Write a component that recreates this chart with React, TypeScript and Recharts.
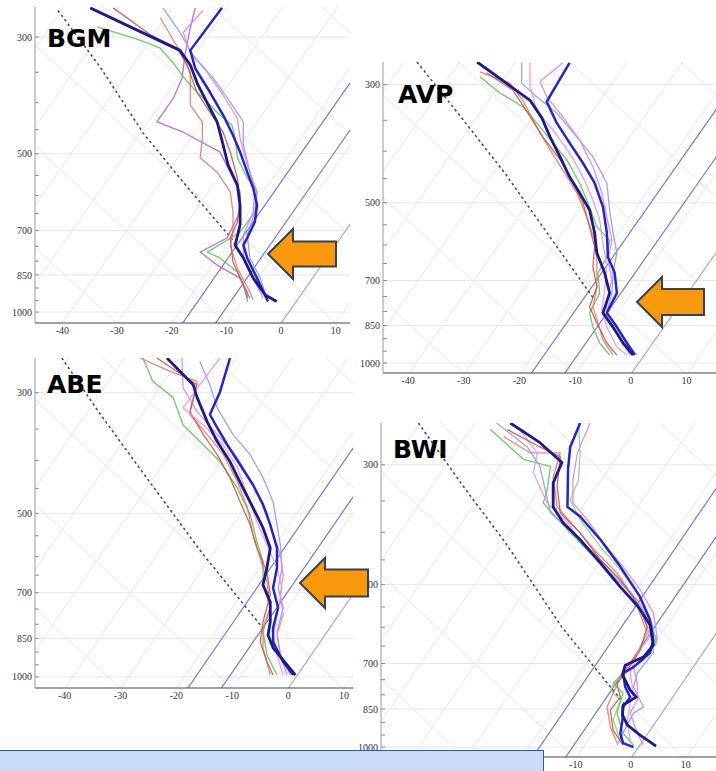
import React from "react";
import { LineChart, Line, XAxis, YAxis, ReferenceLine } from "recharts";

type Pt = [number, number]; // [skewed temperature read on the x axis (°C), pressure (hPa)]

// ---------- axes ----------
const X_TICKS = [-40, -30, -20, -10, 0, 10];
const P_LABELS = [300, 500, 700, 850, 1000];
const P_MINOR = [300, 350, 400, 450, 500, 550, 600, 650, 700, 750, 800, 850, 900, 950, 1000];

// ---------- skew-T background ----------
const SKEW = 67; // °C of skew per decade of pressure
const P_REF = 1050;
const GRID_ISOTHERMS = [-100, -90, -80, -70, -60, -50, -40, -30, -20, -10, 10, 20];
const DGZ_ISOTHERMS = [-18, -12];
const FREEZING_ISOTHERM = [0];
const GRID_ADIABATS = [-30, -10, 10, 30, 50, 70, 90, 110];
const ADIABAT_SLOPE = 104;

// ---------- BGM ----------
const BGM_A: Pt[] = [[-34.9,264],[-18.5,318],[-16.6,339],[-15.2,370],[-13.3,404],[-11.7,435],[-10.6,481],[-9.7,525],[-8.0,574],[-7.5,626],[-7.5,683],[-8.4,746],[-6.9,789],[-5.1,862],[-2.9,928],[-0.8,955]];
const BGM_B: Pt[] = [[-10.8,264],[-16.6,318],[-15.7,344],[-13.0,382],[-10.6,422],[-8.8,461],[-7.5,496],[-6.2,542],[-5.1,581],[-4.4,626],[-4.8,674],[-6.2,723],[-6.9,746],[-6.2,789],[-4.4,862],[-2.4,955]];
const BGM_GREEN: Pt[] = [[-33.6,287],[-25.8,304],[-22.1,315],[-19.7,336],[-17.9,357],[-16.1,375],[-13.5,399],[-11.2,422],[-9.0,441],[-8.4,467],[-8.0,509],[-6.2,556],[-4.4,591],[-4.8,645],[-7.5,705],[-13.5,769],[-11.2,789],[-8.0,839],[-6.2,916],[-6.2,957]];
const BGM_PURPLE: Pt[] = [[-15.7,264],[-16.6,288],[-17.6,325],[-18.1,359],[-19.7,392],[-22.7,435],[-17.9,455],[-11.2,496],[-9.3,542],[-7.5,591],[-7.5,645],[-9.9,723],[-14.8,769],[-11.7,814],[-7.5,862],[-5.7,941]];
const BGM_SALMON: Pt[] = [[-22.1,276],[-18.8,315],[-16.6,350],[-16.6,404],[-14.4,435],[-14.4,467],[-14.8,509],[-11.7,542],[-9.3,591],[-8.8,645],[-8.8,705],[-9.3,746],[-8.0,825],[-5.7,916],[-5.1,949]];
const BGM_LBLUE: Pt[] = [[-21.6,264],[-18.5,294],[-16.1,325],[-12.4,359],[-9.3,399],[-6.9,435],[-6.9,481],[-5.7,542],[-4.4,591],[-4.8,645],[-6.2,714],[-5.7,789],[-3.8,862],[-2.6,941]];
const BGM_VIOLET: Pt[] = [[-14.3,267],[-17.9,294],[-16.6,321],[-13.5,350],[-10.6,387],[-8.0,428],[-7.5,467],[-6.2,525],[-4.8,581],[-5.1,645],[-6.9,714],[-6.9,789],[-5.1,862],[-3.3,941]];
const BGM_RED: Pt[] = [[-30.7,264],[-23.9,297],[-19.0,315],[-17.2,339],[-15.4,382],[-13.0,417],[-10.6,455],[-9.3,496],[-8.0,556],[-7.5,607],[-8.0,674],[-9.3,723],[-8.8,803],[-6.9,889],[-6.2,941]];
const BGM_DOT: Pt[] = [[-40.8,267],[-33.1,342],[-25.2,457],[-17.2,578],[-8.8,730]];

// ---------- AVP ----------
const AVP_A: Pt[] = [[-27.6,272],[-18.1,321],[-16.0,346],[-14.5,376],[-12.7,410],[-11.0,447],[-9.2,479],[-7.4,516],[-6.5,569],[-6.1,621],[-4.7,677],[-3.8,739],[-5.0,805],[-3.2,856],[-1.4,917],[0.4,966]];
const AVP_B: Pt[] = [[-11.0,273],[-15.1,323],[-13.3,354],[-11.0,386],[-8.6,421],[-6.5,459],[-5.0,509],[-4.3,569],[-4.1,632],[-2.9,677],[-2.5,739],[-4.3,805],[-2.5,856],[-0.7,917],[0.7,966]];
const AVP_GREEN: Pt[] = [[-27.1,290],[-23.5,311],[-19.4,330],[-16.9,354],[-14.0,386],[-11.5,415],[-9.2,459],[-7.4,509],[-6.1,555],[-3.8,587],[-4.3,632],[-5.9,677],[-5.6,739],[-7.4,805],[-6.8,856],[-5.6,917],[-3.8,966]];
const AVP_SALMON: Pt[] = [[-27.1,284],[-21.7,298],[-19.4,321],[-16.9,360],[-14.5,398],[-12.2,434],[-9.7,479],[-7.9,532],[-6.5,587],[-6.1,640],[-6.1,720],[-6.8,785],[-5.9,841],[-5.0,905],[-3.2,966]];
const AVP_LBLUE: Pt[] = [[-19.6,273],[-19.6,298],[-16.9,316],[-13.3,339],[-9.7,376],[-6.8,410],[-4.3,459],[-3.8,516],[-3.2,569],[-2.5,621],[-3.2,677],[-3.4,739],[-4.3,805],[-2.5,856],[-0.7,917],[1.1,966]];
const AVP_VIOLET: Pt[] = [[-12.2,273],[-16.3,296],[-15.1,316],[-12.2,345],[-9.2,381],[-6.8,428],[-5.2,479],[-4.3,532],[-3.4,587],[-4.1,640],[-3.4,698],[-4.3,761],[-4.3,830],[-2.0,894],[-0.2,966]];
const AVP_RED: Pt[] = [[-25.9,285],[-21.2,307],[-18.5,339],[-15.8,376],[-12.7,415],[-10.6,453],[-8.6,500],[-7.4,555],[-6.5,605],[-6.8,660],[-6.1,720],[-7.4,785],[-6.1,841],[-4.3,917],[-2.5,966]];
const AVP_PINK: Pt[] = [[-18.1,273],[-18.1,303],[-16.9,335],[-14.0,365],[-11.0,403],[-8.6,447],[-6.8,494],[-5.6,538],[-5.0,595],[-4.3,660],[-4.7,729],[-5.2,795],[-4.3,856],[-2.5,933],[-0.7,966]];
const AVP_DOT: Pt[] = [[-38.4,272],[-30.5,345],[-22.6,440],[-14.5,580],[-6.5,761]];

// ---------- ABE ----------
const ABE_A: Pt[] = [[-21.7,259],[-17.0,290],[-16.3,306],[-14.5,339],[-12.7,369],[-10.4,402],[-8.1,449],[-6.3,488],[-4.5,532],[-3.2,579],[-3.8,630],[-4.5,677],[-3.2,728],[-3.2,792],[-3.6,837],[-2.7,884],[-0.2,950],[1.3,992]];
const ABE_B: Pt[] = [[-10.4,259],[-12.2,299],[-14.0,329],[-12.7,348],[-10.9,374],[-8.6,407],[-6.3,443],[-4.5,482],[-3.2,525],[-2.0,579],[-2.0,630],[-2.7,686],[-1.8,746],[-2.7,812],[-2.7,862],[-0.9,938],[0.9,992]];
const ABE_GREEN: Pt[] = [[-26.0,259],[-24.2,286],[-20.6,306],[-18.8,344],[-15.2,374],[-12.2,402],[-9.1,449],[-6.8,503],[-5.6,564],[-4.5,614],[-4.5,677],[-3.2,746],[-4.5,826],[-3.8,911],[-2.0,992]];
const ABE_SALMON: Pt[] = [[-26.5,259],[-21.1,274],[-16.3,286],[-17.6,329],[-14.5,358],[-11.6,390],[-9.1,437],[-7.3,488],[-6.3,548],[-5.0,604],[-3.8,668],[-3.2,746],[-4.5,812],[-4.5,884],[-3.2,992]];
const ABE_LBLUE: Pt[] = [[-15.8,263],[-14.0,290],[-12.7,320],[-9.9,358],[-6.8,390],[-4.5,430],[-2.7,476],[-2.0,525],[-1.4,571],[-1.1,630],[-1.8,686],[-0.9,746],[-2.0,826],[-1.4,911],[0.4,992]];
const ABE_VIOLET: Pt[] = [[-19.0,259],[-18.8,294],[-16.3,325],[-12.7,358],[-9.1,395],[-6.3,443],[-3.8,497],[-2.7,548],[-1.4,596],[-0.9,649],[-1.4,706],[-0.9,769],[-2.0,837],[-1.4,911],[-0.2,992]];
const ABE_RED: Pt[] = [[-23.5,259],[-16.3,290],[-17.6,325],[-15.2,358],[-12.7,390],[-10.4,430],[-8.6,476],[-6.8,525],[-5.6,579],[-3.8,641],[-3.2,706],[-4.5,792],[-5.0,862],[-3.8,938],[-2.7,992]];
const ABE_PINK: Pt[] = [[-12.2,259],[-15.8,290],[-18.8,320],[-15.2,344],[-11.6,374],[-9.1,412],[-7.3,462],[-5.6,518],[-3.8,571],[-2.0,630],[-1.1,686],[-2.0,769],[-2.7,837],[-2.0,911],[-0.9,992]];
const ABE_DOT: Pt[] = [[-40.5,259],[-33.5,330],[-26.0,421],[-15.5,590],[-4.7,809]];

// ---------- BWI ----------
const BWI_A: Pt[] = [[-21.9,251],[-16.5,273],[-12.5,297],[-14.1,324],[-14.1,359],[-12.3,384],[-9.2,413],[-5.5,456],[-1.9,505],[1.4,550],[3.5,594],[4.1,647],[2.3,681],[-1.0,705],[-1.5,735],[-0.1,784],[1.0,808],[-1.4,836],[-1.5,872],[-0.6,910],[1.7,950],[4.6,996]];
const BWI_B: Pt[] = [[-9.2,251],[-11.0,278],[-11.4,306],[-11.5,359],[-9.2,374],[-5.5,413],[-1.9,463],[1.7,527],[3.5,581],[4.1,633],[3.5,669],[0.5,711],[-1.4,729],[-1.0,774],[-0.1,808],[-1.4,843],[-1.5,891],[-1.9,942],[-1.4,983],[0.5,1000]];
const BWI_GREEN: Pt[] = [[-25.5,258],[-19.5,293],[-14.6,302],[-15.2,334],[-15.9,353],[-11.5,396],[-7.4,437],[-3.7,476],[-0.1,518],[2.3,564],[4.8,633],[2.3,690],[-1.4,729],[-3.2,761],[-1.4,794],[-2.5,865],[-1.4,942],[0.5,992]];
const BWI_SALMON: Pt[] = [[-23.1,266],[-18.3,285],[-12.8,285],[-14.1,316],[-13.4,359],[-9.7,396],[-6.1,437],[-2.5,476],[0.5,527],[3.0,614],[1.2,669],[-1.4,729],[-3.2,794],[-4.3,843],[-3.7,918],[-2.5,983]];
const BWI_PINK: Pt[] = [[-20.6,255],[-17.0,285],[-17.7,310],[-15.2,353],[-11.5,384],[-7.9,431],[-4.3,469],[-0.6,511],[2.3,564],[3.5,625],[1.2,669],[-0.1,729],[0.5,794],[-0.1,829],[-0.6,891],[-0.1,971]];
const BWI_LBLUE: Pt[] = [[-24.4,251],[-18.8,278],[-16.5,302],[-14.6,368],[-10.5,401],[-6.1,444],[-2.5,484],[1.2,534],[4.1,599],[4.1,669],[1.2,729],[0.5,774],[2.3,843],[0.5,865],[-1.4,942],[-2.5,992]];
const BWI_VIOLET: Pt[] = [[-7.4,251],[-9.7,285],[-10.5,320],[-10.5,353],[-7.9,379],[-5.0,418],[-1.4,463],[1.7,511],[4.1,564],[4.8,625],[3.0,669],[0.5,711],[1.2,761],[1.2,818],[-0.1,865],[1.2,942],[2.3,992]];
const BWI_RED: Pt[] = [[-22.5,258],[-16.5,278],[-12.8,290],[-13.4,329],[-12.8,368],[-9.2,401],[-5.5,450],[-1.9,490],[1.2,541],[3.0,599],[1.7,661],[-0.6,720],[-2.5,761],[-1.9,808],[-3.7,854],[-3.2,930],[-1.4,992]];
const BWI_GREEN2: Pt[] = [[-9.5,251],[-9.2,285],[-9.5,320],[-11.0,348],[-9.2,379],[-5.5,426],[-1.9,469],[1.2,518],[3.5,581],[4.8,641],[1.7,698],[-2.5,751],[-3.7,784],[-1.9,818],[-3.2,891],[-1.9,971]];
const BWI_DOT: Pt[] = [[-38.6,251],[-30.8,325],[-22.8,418],[-12.5,600],[-1.0,836]];

// ---------- styles ----------
type Sty = { stroke: string; width: number; opacity: number };
const STYLE: Record<string, Sty> = {
  green: { stroke: "#55c955", width: 1.3, opacity: 0.9 },
  green2: { stroke: "#7fd67f", width: 1.3, opacity: 0.9 },
  salmon: { stroke: "#e87a70", width: 1.3, opacity: 0.9 },
  lblue: { stroke: "#8e9af0", width: 1.3, opacity: 0.9 },
  violet: { stroke: "#d985e2", width: 1.3, opacity: 0.9 },
  purple: { stroke: "#b763c4", width: 1.3, opacity: 0.9 },
  red: { stroke: "#cc5548", width: 1.3, opacity: 0.9 },
  pink: { stroke: "#ec92e4", width: 1.3, opacity: 0.9 },
  meanB: { stroke: "#2525c6", width: 2.5, opacity: 1 },
  meanA: { stroke: "#1a1a88", width: 2.8, opacity: 1 },
};

type Series = { name: string; style: string; pts: Pt[] };
type Panel = {
  id: string; left: number; top: number; w: number; h: number;
  xMin: number; xMax: number; pTop: number; pBot: number;
  series: Series[]; dotted: Pt[]; label: [number, number];
};

const PANELS: Panel[] = [
  {
    id: "BGM", left: 35, top: 7, w: 315, h: 316, xMin: -45.0, xMax: 12.6, pTop: 263, pBot: 1049, label: [47, 47], dotted: BGM_DOT,
    series: [
      { name: "green", style: "green", pts: BGM_GREEN },
      { name: "purple", style: "purple", pts: BGM_PURPLE },
      { name: "salmon", style: "salmon", pts: BGM_SALMON },
      { name: "lblue", style: "lblue", pts: BGM_LBLUE },
      { name: "violet", style: "violet", pts: BGM_VIOLET },
      { name: "red", style: "red", pts: BGM_RED },
      { name: "B", style: "meanB", pts: BGM_B },
      { name: "A", style: "meanA", pts: BGM_A },
    ],
  },
  {
    id: "AVP", left: 383, top: 62, w: 333, h: 311, xMin: -44.5, xMax: 15.3, pTop: 272, pBot: 1044, label: [398, 103], dotted: AVP_DOT,
    series: [
      { name: "green", style: "green", pts: AVP_GREEN },
      { name: "salmon", style: "salmon", pts: AVP_SALMON },
      { name: "lblue", style: "lblue", pts: AVP_LBLUE },
      { name: "violet", style: "violet", pts: AVP_VIOLET },
      { name: "red", style: "red", pts: AVP_RED },
      { name: "pink", style: "pink", pts: AVP_PINK },
      { name: "B", style: "meanB", pts: AVP_B },
      { name: "A", style: "meanA", pts: AVP_A },
    ],
  },
  {
    id: "ABE", left: 35, top: 358, w: 318, h: 330, xMin: -45.3, xMax: 11.6, pTop: 259, pBot: 1048, label: [47, 393], dotted: ABE_DOT,
    series: [
      { name: "green", style: "green", pts: ABE_GREEN },
      { name: "salmon", style: "salmon", pts: ABE_SALMON },
      { name: "lblue", style: "lblue", pts: ABE_LBLUE },
      { name: "violet", style: "violet", pts: ABE_VIOLET },
      { name: "red", style: "red", pts: ABE_RED },
      { name: "pink", style: "pink", pts: ABE_PINK },
      { name: "B", style: "meanB", pts: ABE_B },
      { name: "A", style: "meanA", pts: ABE_A },
    ],
  },
  {
    id: "BWI", left: 381, top: 423, w: 335, h: 334, xMin: -45.4, xMax: 15.5, pTop: 251, pBot: 1043, label: [393, 458], dotted: BWI_DOT,
    series: [
      { name: "green", style: "green", pts: BWI_GREEN },
      { name: "green2", style: "green2", pts: BWI_GREEN2 },
      { name: "salmon", style: "salmon", pts: BWI_SALMON },
      { name: "pink", style: "pink", pts: BWI_PINK },
      { name: "lblue", style: "lblue", pts: BWI_LBLUE },
      { name: "violet", style: "violet", pts: BWI_VIOLET },
      { name: "red", style: "red", pts: BWI_RED },
      { name: "B", style: "meanB", pts: BWI_B },
      { name: "A", style: "meanA", pts: BWI_A },
    ],
  },
];

// ---------- annotation arrows (page pixels) ----------
const ARROWS = [
  { tip: [268, 254], headX: 293, headHalf: 25, shaftHalf: 12.5, endX: 336 },
  { tip: [637, 302], headX: 662, headHalf: 25, shaftHalf: 13, endX: 704 },
  { tip: [300, 583], headX: 325, headHalf: 25, shaftHalf: 13.5, endX: 368 },
];

const rows = (pts: Pt[]) => pts.map(([x, p]) => ({ x, p }));
const P_HI = 1060;
const P_LO = 240;
const isotherm = (t: number) => [
  { x: t + SKEW * Math.log10(P_REF / P_HI), p: P_HI },
  { x: t + SKEW * Math.log10(P_REF / P_LO), p: P_LO },
];
const adiabat = (b: number) => [
  { x: b - ADIABAT_SLOPE * Math.log10(P_REF / P_HI), p: P_HI },
  { x: b - ADIABAT_SLOPE * Math.log10(P_REF / P_LO), p: P_LO },
];

const YW = 40;
const XH = 22;
const TICK_FONT = { fontFamily: "'Liberation Serif', 'DejaVu Serif', serif", fontSize: 10, fill: "#333" };

function SkewPanel({ cfg }: { cfg: Panel }) {
  const minorLen = (cfg.xMax - cfg.xMin) * 0.012;
  return (
    <div style={{ position: "absolute", left: cfg.left - YW, top: cfg.top }}>
      <LineChart width={cfg.w + YW} height={cfg.h + XH} margin={{ top: 0, right: 0, bottom: 0, left: 0 }}>
        <XAxis
          type="number" dataKey="x" domain={[cfg.xMin, cfg.xMax]} allowDataOverflow ticks={X_TICKS}
          height={XH} tickLine={false} tickSize={0} tickMargin={4} axisLine={{ stroke: "#444" }}
          tick={TICK_FONT} interval={0}
        />
        <YAxis
          type="number" scale="log" domain={[cfg.pTop, cfg.pBot]} reversed allowDataOverflow ticks={P_LABELS}
          width={YW} tickLine={false} tickSize={0} tickMargin={3} axisLine={{ stroke: "#9a9a9a" }}
          tick={TICK_FONT} interval={0}
        />
        {P_LABELS.map((p) => (
          <ReferenceLine key={"h" + p} y={p} stroke="#e6e6e6" strokeWidth={1} />
        ))}
        {GRID_ADIABATS.map((b) => (
          <Line key={"ad" + b} data={adiabat(b)} dataKey="p" stroke="#e6e6e6" strokeWidth={1} dot={false} isAnimationActive={false} />
        ))}
        {GRID_ISOTHERMS.map((t) => (
          <Line key={"it" + t} data={isotherm(t)} dataKey="p" stroke="#e6e6e6" strokeWidth={1} dot={false} isAnimationActive={false} />
        ))}
        {DGZ_ISOTHERMS.map((t) => (
          <Line key={"dgz" + t} data={isotherm(t)} dataKey="p" stroke="#6d6de2" strokeWidth={1.1} dot={false} isAnimationActive={false} />
        ))}
        {FREEZING_ISOTHERM.map((t) => (
          <Line key={"fz" + t} data={isotherm(t)} dataKey="p" stroke="#a8a8a8" strokeWidth={1.1} dot={false} isAnimationActive={false} />
        ))}
        {P_MINOR.map((p) => (
          <ReferenceLine key={"m" + p} segment={[{ x: cfg.xMin, y: p }, { x: cfg.xMin + minorLen, y: p }]} stroke="#888" />
        ))}
        <Line data={rows(cfg.dotted)} dataKey="p" stroke="#5a3a3a" strokeWidth={1.5} strokeDasharray="2.5 3" dot={false} isAnimationActive={false} />
        {cfg.series.map((s) => {
          const st = STYLE[s.style];
          return (
            <Line
              key={s.name} data={rows(s.pts)} dataKey="p" stroke={st.stroke} strokeWidth={st.width}
              strokeOpacity={st.opacity} dot={false} isAnimationActive={false} strokeLinejoin="round"
            />
          );
        })}
      </LineChart>
    </div>
  );
}

export default function App() {
  return (
    <div style={{ position: "absolute", left: 0, top: 0, width: 716, height: 771, background: "#fff", overflow: "hidden" }}>
      {PANELS.map((p) => (
        <SkewPanel key={p.id} cfg={p} />
      ))}
      <svg width={716} height={771} style={{ position: "absolute", left: 0, top: 0, pointerEvents: "none" }}>
        {PANELS.map((p) => (
          <text key={p.id} x={p.label[0]} y={p.label[1]} fontFamily="'DejaVu Sans', sans-serif" fontWeight="bold" fontSize={25} fill="#000">
            {p.id}
          </text>
        ))}
        {ARROWS.map((a, i) => {
          const [tx, ty] = a.tip;
          const pts = [
            [tx, ty], [a.headX, ty - a.headHalf], [a.headX, ty - a.shaftHalf], [a.endX, ty - a.shaftHalf],
            [a.endX, ty + a.shaftHalf], [a.headX, ty + a.shaftHalf], [a.headX, ty + a.headHalf],
          ].map((q) => q.join(",")).join(" ");
          return <polygon key={i} points={pts} fill="#f8990e" stroke="#34434f" strokeWidth={2} strokeLinejoin="miter" />;
        })}
      </svg>
      <div style={{ position: "absolute", left: -2, top: 750, width: 544, height: 40, background: "#c9dbf7", border: "1.5px solid #2d5a9e" }} />
    </div>
  );
}
